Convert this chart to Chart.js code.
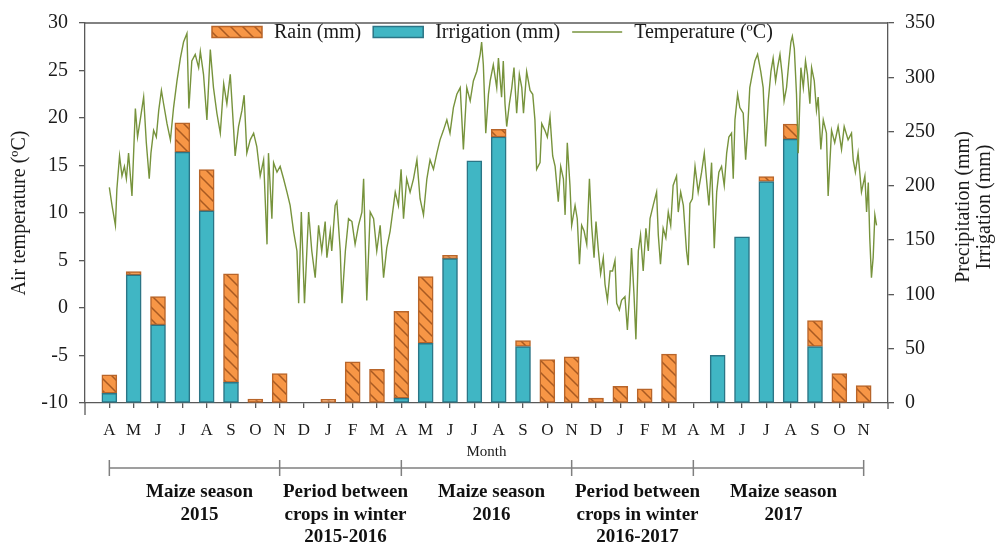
<!DOCTYPE html>
<html>
<head>
<meta charset="utf-8">
<title>Temperature, rain and irrigation</title>
<script src="https://cdn.jsdelivr.net/npm/chart.js@4.4.1/dist/chart.umd.min.js"></script>
<style>
  html, body { margin: 0; padding: 0; background: #fff; }
  canvas { display: block; }
</style>
</head>
<body>
<canvas id="chart" width="1003" height="550"></canvas>
<script>
// Months from April 2015 to November 2017
const monthLabels = ["A", "M", "J", "J", "A", "S", "O", "N", "D", "J", "F", "M",
  "A", "M", "J", "J", "A", "S", "O", "N", "D", "J", "F", "M",
  "A", "M", "J", "J", "A", "S", "O", "N"];

// Monthly totals (mm)
const irrigationMm = [9, 118, 72, 231, 177, 19, null, null, null, null, null, null,
  4.5, 55, 133, 223, 245, 52, null, null, null, null, null, null,
  null, 44, 153, 204, 243, 52, null, null];
const rainMm = [17, 3, 26, 27, 38, 100, 3.5, 27, null, 3.3, 38, 31,
  80, 61.5, 3, null, 7, 5.5, 40, 42.5, 4.5, 15.4, 13, 45,
  null, null, null, 4.5, 14, 24, 27, 16];

// Daily air temperature, sampled along the trace (position in months from April 2015)
const tempMonth = [0.00, 0.11, 0.25, 0.31, 0.42, 0.52, 0.62, 0.70, 0.79, 0.93,
  1.07, 1.16, 1.27, 1.41, 1.52, 1.64, 1.71, 1.82, 1.93, 2.03, 2.14, 2.23, 2.37, 2.51, 2.64, 2.78, 2.92,
  3.05, 3.19, 3.27, 3.39, 3.53, 3.67, 3.74, 3.87, 4.01, 4.15, 4.28, 4.42, 4.56, 4.70, 4.83, 4.97,
  5.11, 5.17, 5.31, 5.45, 5.54, 5.65, 5.79, 5.93, 6.06, 6.20, 6.34, 6.48, 6.54, 6.68, 6.75, 6.89,
  7.02, 7.16, 7.30, 7.43, 7.57, 7.71, 7.78, 7.89, 8.02, 8.19, 8.32, 8.46, 8.60, 8.73, 8.87, 8.94,
  9.08, 9.14, 9.28, 9.35, 9.49, 9.56, 9.70, 9.83, 9.97, 10.10, 10.24, 10.38, 10.45, 10.51, 10.58,
  10.72, 10.86, 10.99, 11.13, 11.27, 11.40, 11.54, 11.68, 11.75, 11.88, 11.99, 12.09, 12.22, 12.36,
  12.50, 12.64, 12.77, 12.91, 13.05, 13.18, 13.32, 13.46, 13.59, 13.73, 13.87, 14.00, 14.14, 14.28,
  14.42, 14.55, 14.69, 14.83, 14.96, 15.10, 15.24, 15.30, 15.37, 15.47, 15.58, 15.65, 15.78, 15.92,
  15.99, 16.12, 16.19, 16.26, 16.33, 16.44, 16.54, 16.63, 16.74, 16.85, 16.95, 17.02, 17.15, 17.29,
  17.40, 17.49, 17.56, 17.70, 17.77, 17.90, 18.00, 18.11, 18.22, 18.32, 18.45, 18.55, 18.66, 18.73,
  18.82, 18.93, 19.00, 19.14, 19.23, 19.32, 19.41, 19.51, 19.62, 19.73, 19.82, 19.92, 20.00, 20.10,
  20.19, 20.30, 20.37, 20.47, 20.58, 20.68, 20.78, 20.85, 20.96, 21.05, 21.19, 21.29, 21.40, 21.46,
  21.56, 21.64, 21.74, 21.83, 21.94, 22.05, 22.15, 22.22, 22.35, 22.49, 22.56, 22.65, 22.76, 22.87,
  22.97, 23.07, 23.17, 23.31, 23.38, 23.48, 23.59, 23.72, 23.79, 23.86, 23.96, 24.07, 24.20, 24.34,
  24.45, 24.54, 24.64, 24.75, 24.86, 24.96, 25.05, 25.16, 25.27, 25.37, 25.46, 25.57, 25.64, 25.71,
  25.82, 25.91, 26.05, 26.15, 26.23, 26.32, 26.42, 26.53, 26.64, 26.77, 26.87, 26.97, 27.08, 27.19,
  27.28, 27.38, 27.46, 27.56, 27.65, 27.73, 27.83, 27.93, 28.01, 28.07, 28.15, 28.24, 28.31, 28.42,
  28.52, 28.61, 28.69, 28.79, 28.86, 28.97, 29.06, 29.13, 29.24, 29.34, 29.47, 29.54, 29.68, 29.81,
  29.95, 30.09, 30.20, 30.36, 30.50, 30.57, 30.66, 30.77, 30.91, 31.05, 31.12, 31.19, 31.25, 31.32,
  31.39, 31.46, 31.53];
const tempC = [12.7, 10.8, 8.7, 12.5, 16.0, 13.9, 14.9, 13.6, 16.3, 11.8,
  21.0, 18.0, 19.8, 22.2, 17.4, 13.6, 16.3, 18.7, 18.0, 20.8, 22.9, 21.5, 19.4, 17.7, 21.1, 23.9, 26.3,
  28.0, 28.9, 21.0, 26.0, 26.7, 25.3, 27.0, 24.6, 19.8, 27.2, 23.2, 20.5, 18.4, 23.6, 21.5, 24.6,
  18.7, 16.0, 19.1, 20.8, 22.4, 16.3, 17.7, 18.4, 17.0, 13.9, 15.6, 6.7, 16.3, 9.4, 15.3, 14.3,
  14.9, 13.6, 12.2, 10.8, 8.1, 6.0, 0.5, 10.1, 0.5, 10.1, 6.0, 3.2, 8.7, 6.0, 9.1, 5.3,
  8.1, 6.0, 10.8, 11.2, 6.0, 0.5, 6.0, 9.4, 9.1, 6.7, 8.7, 10.1, 13.6, 7.7, 0.8,
  10.1, 9.4, 6.0, 8.7, 3.2, 6.3, 8.1, 10.8, 12.2, 10.8, 14.6, 9.4, 13.6, 12.2,
  13.6, 15.6, 11.5, 9.8, 13.6, 15.6, 14.6, 16.3, 17.7, 18.7, 19.8, 18.4, 21.1, 22.5,
  23.2, 16.7, 23.2, 21.8, 23.9, 24.9, 26.7, 28.0, 25.6, 18.4, 22.5, 23.9, 25.6, 23.2,
  26.3, 22.2, 26.0, 21.5, 19.1, 21.5, 23.2, 25.3, 20.5, 24.6, 23.2, 20.5, 24.9, 22.9,
  22.5, 19.8, 14.6, 15.3, 19.4, 18.7, 18.0, 20.1, 16.0, 14.9, 11.2, 14.9, 13.6, 9.8,
  17.4, 12.9, 8.7, 10.8, 9.4, 4.6, 8.7, 8.1, 6.7, 13.6, 8.7, 5.3, 9.1, 6.0,
  3.6, 5.3, 2.5, 0.8, 3.9, 3.9, 5.0, 0.5, -0.2, 0.8, 1.2, -2.3, 2.5, 6.3,
  1.5, -3.3, 6.0, 7.7, 3.9, 8.4, 6.0, 9.4, 10.8, 12.2, 7.7, 4.6, 8.4, 7.4,
  10.1, 8.7, 12.9, 13.9, 10.1, 12.2, 10.8, 6.0, 4.5, 11.0, 11.5, 14.9, 12.2, 14.3,
  16.3, 13.6, 10.8, 15.3, 6.3, 12.2, 14.3, 14.9, 12.9, 16.3, 18.0, 18.4, 13.6, 19.8,
  22.5, 21.1, 20.5, 15.6, 18.7, 23.2, 24.6, 26.0, 26.7, 24.9, 23.2, 17.0, 21.8, 24.9,
  26.3, 23.9, 25.3, 26.7, 24.6, 21.8, 23.2, 26.0, 28.0, 28.6, 27.3, 22.5, 16.3, 25.3,
  23.2, 26.0, 24.6, 21.5, 25.3, 23.9, 20.8, 22.2, 16.7, 19.8, 18.4, 11.8, 18.7, 17.4,
  19.1, 16.7, 19.1, 17.7, 18.4, 15.6, 14.3, 16.3, 12.2, 13.9, 10.1, 13.2, 7.4, 3.2,
  5.3, 9.8, 8.7];

// Period brackets under the axis (month indexes) and their captions
const periodBounds = [0, 7, 12, 19, 24, 31];
const periodLabels = [
  ["Maize season", "2015"],
  ["Period between", "crops in winter", "2015-2016"],
  ["Maize season", "2016"],
  ["Period between", "crops in winter", "2016-2017"],
  ["Maize season", "2017"]
];

const SERIF = '"Liberation Serif", "Times New Roman", serif';
const AXIS_COLOR = "#595959";
const TEXT_COLOR = "#1a1a1a";
const RAIN_FILL = "#f79646";
const RAIN_EDGE = "#b8652a";
const IRR_FILL = "#40b6c4";
const IRR_EDGE = "#2b7586";
const TEMP_COLOR = "#77933c";

Chart.defaults.font.family = SERIF;
Chart.defaults.color = TEXT_COLOR;

function makeHatch(bg, fg) {
  const size = 12;
  const c = document.createElement("canvas");
  c.width = size;
  c.height = size;
  const g = c.getContext("2d");
  g.fillStyle = bg;
  g.fillRect(0, 0, size, size);
  g.strokeStyle = fg;
  g.lineWidth = 1.5;
  g.beginPath();
  g.moveTo(-2, -2);
  g.lineTo(size + 2, size + 2);
  g.moveTo(size - 2, -2);
  g.lineTo(size + 2, 2);
  g.moveTo(-2, size - 2);
  g.lineTo(2, size + 2);
  g.stroke();
  return g.createPattern(c, "repeat");
}

const rainPattern = makeHatch(RAIN_FILL, "#a85a22");

function line(ctx, x1, y1, x2, y2) {
  ctx.beginPath();
  ctx.moveTo(x1, y1);
  ctx.lineTo(x2, y2);
  ctx.stroke();
}

// Frame, period brackets, right axis title and the legend inside the plot
const decorations = {
  id: "decorations",
  afterDraw(chart) {
    const { ctx, chartArea, scales } = chart;
    const x = scales.x;
    ctx.save();

    ctx.strokeStyle = AXIS_COLOR;
    ctx.lineWidth = 1.3;
    line(ctx, chartArea.left, chartArea.top, chartArea.right, chartArea.top);
    line(ctx, chartArea.left, chartArea.bottom, chartArea.left, chartArea.bottom + 12);
    line(ctx, chartArea.right, chartArea.bottom, chartArea.right, chartArea.bottom + 6);

    // brackets
    const yB = 468;
    ctx.strokeStyle = "#7f7f7f";
    ctx.lineWidth = 1.5;
    const first = x.getPixelForValue(periodBounds[0]);
    const last = x.getPixelForValue(periodBounds[periodBounds.length - 1]);
    line(ctx, first, yB, last, yB);
    periodBounds.forEach((b) => {
      const px = x.getPixelForValue(b);
      line(ctx, px, yB - 8, px, yB + 8);
    });

    ctx.fillStyle = "#111";
    ctx.font = `bold 19px ${SERIF}`;
    ctx.textAlign = "center";
    ctx.textBaseline = "alphabetic";
    periodLabels.forEach((lines, i) => {
      const cx = (x.getPixelForValue(periodBounds[i]) + x.getPixelForValue(periodBounds[i + 1])) / 2 + 5;
      lines.forEach((t, j) => ctx.fillText(t, cx, 497 + j * 22.5));
    });

    // right axis title, reading upwards
    ctx.save();
    ctx.translate(975, 207);
    ctx.rotate(-Math.PI / 2);
    ctx.font = `20px ${SERIF}`;
    ctx.fillStyle = TEXT_COLOR;
    ctx.textBaseline = "middle";
    ctx.textAlign = "center";
    ctx.fillText("Precipitation (mm)", 0, -11);
    ctx.fillText("Irrigation (mm)", 0, 10);
    ctx.restore();

    // legend
    const ly = 32;
    let lx = 212;
    ctx.font = `20px ${SERIF}`;
    ctx.textAlign = "left";
    ctx.textBaseline = "middle";
    chart.data.datasets
      .slice()
      .sort((a, b) => a.legendRank - b.legendRank)
      .forEach((ds) => {
        if (ds.type === "line") {
          ctx.strokeStyle = ds.borderColor;
          ctx.lineWidth = 1.5;
          line(ctx, lx, ly, lx + 50, ly);
        } else {
          ctx.fillStyle = ds.backgroundColor;
          ctx.fillRect(lx, ly - 5.5, 50, 11);
          ctx.strokeStyle = ds.borderColor;
          ctx.lineWidth = 1.5;
          ctx.strokeRect(lx, ly - 5.5, 50, 11);
        }
        lx += 62;
        ctx.fillStyle = TEXT_COLOR;
        ctx.fillText(ds.label, lx, ly + 1);
        lx += ctx.measureText(ds.label).width + 12;
      });

    ctx.restore();
  }
};

const axisGrid = {
  drawOnChartArea: false,
  drawTicks: true,
  color: AXIS_COLOR,
  lineWidth: 1.3
};
const axisBorder = { display: true, color: AXIS_COLOR, width: 1.3 };

new Chart(document.getElementById("chart"), {
  type: "bar",
  data: {
    datasets: [
      {
        label: "Irrigation (mm)",
        legendRank: 1,
        data: irrigationMm.map((v, i) => ({ x: i, y: v })),
        yAxisID: "y2",
        backgroundColor: IRR_FILL,
        borderColor: IRR_EDGE,
        borderWidth: 1.5,
        borderSkipped: false,
        barThickness: 15,
        order: 1
      },
      {
        label: "Rain (mm)",
        legendRank: 0,
        data: rainMm.map((v, i) => ({ x: i, y: v })),
        yAxisID: "y2",
        backgroundColor: rainPattern,
        borderColor: RAIN_EDGE,
        borderWidth: 1.5,
        borderSkipped: false,
        barThickness: 15,
        order: 1
      },
      {
        type: "line",
        label: "Temperature (ºC)",
        legendRank: 2,
        data: tempMonth.map((m, i) => ({ x: m, y: tempC[i] })),
        yAxisID: "y",
        borderColor: TEMP_COLOR,
        borderWidth: 1.4,
        pointRadius: 0,
        tension: 0,
        fill: false,
        order: 0
      }
    ]
  },
  options: {
    responsive: false,
    animation: false,
    layout: { padding: { top: 16, left: 0, right: 0, bottom: 0 } },
    plugins: {
      legend: { display: false },
      tooltip: { enabled: false }
    },
    scales: {
      x: {
        type: "linear",
        min: -1,
        max: 32,
        stacked: true,
        offset: false,
        afterBuildTicks(scale) {
          scale.ticks = monthLabels.map((_, i) => ({ value: i }));
        },
        afterFit(scale) {
          scale.height = 147;
        },
        ticks: {
          autoSkip: false,
          maxRotation: 0,
          padding: 12,
          font: { size: 17 },
          color: TEXT_COLOR,
          callback(value) {
            return monthLabels[value] ?? "";
          }
        },
        grid: { ...axisGrid, offset: false, tickLength: 5 },
        border: axisBorder,
        title: {
          display: true,
          text: "Month",
          font: { size: 15 },
          color: TEXT_COLOR,
          padding: { top: 0, bottom: 89 }
        }
      },
      y: {
        position: "left",
        min: -10,
        max: 30,
        afterFit(scale) {
          scale.width = 85;
        },
        ticks: { stepSize: 5, padding: 11, font: { size: 20 }, color: TEXT_COLOR },
        grid: { ...axisGrid, tickLength: 6 },
        border: axisBorder,
        title: {
          display: true,
          text: "Air temperature (ºC)",
          font: { size: 20 },
          color: TEXT_COLOR,
          padding: { top: 8, bottom: 0 }
        }
      },
      y2: {
        position: "right",
        min: 0,
        max: 350,
        stacked: true,
        afterFit(scale) {
          scale.width = 115;
        },
        ticks: { stepSize: 50, padding: 11, font: { size: 20 }, color: TEXT_COLOR },
        grid: { ...axisGrid, tickLength: 6 },
        border: axisBorder
      }
    }
  },
  plugins: [decorations]
});
</script>
</body>
</html>
